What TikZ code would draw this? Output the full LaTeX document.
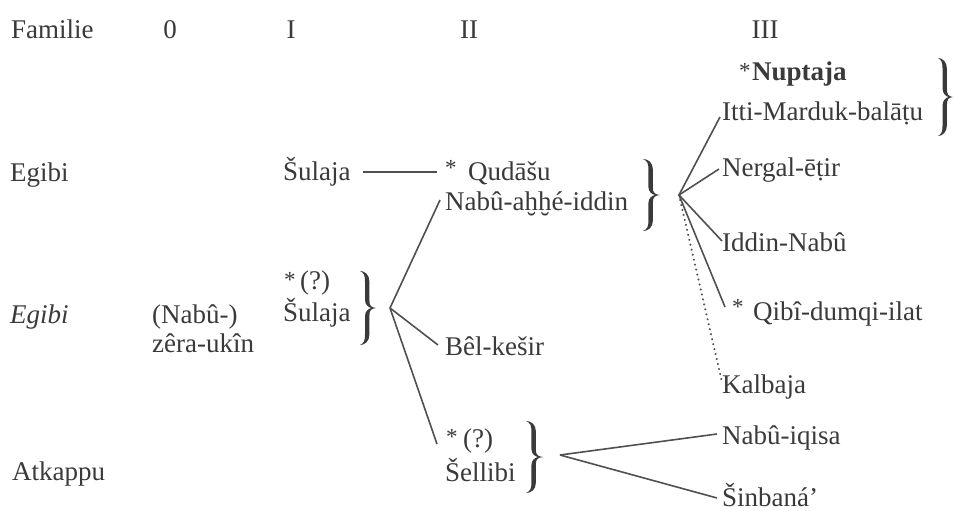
\documentclass[tikz,border=0pt]{standalone}
\usepackage{fontspec}
\setmainfont{Liberation Serif}
\usetikzlibrary{calc}
\definecolor{ink}{HTML}{3A3A3A}
\definecolor{wirec}{HTML}{505050}
\tikzset{
  lbl/.style={anchor=base west, inner sep=0pt, text=ink, font=\fontsize{27}{32}\selectfont},
  hdr/.style={anchor=base, inner sep=0pt, text=ink, font=\fontsize{27}{32}\selectfont},
  starmark/.style={anchor=base west, inner sep=0pt, text=ink, font=\fontsize{23}{27}\selectfont},
  wire/.style={draw=wirec, line width=1.6pt},
  dotwire/.style={draw=wirec, line width=2.2pt, dash pattern=on 0.1pt off 5pt, line cap=round},
  pics/curly/.style 2 args={code={
    \fill[ink] (0,#1) .. controls ({0.3*#2},#1) and ({0.45*#2+2.2},{0.9*#1}) .. ({0.45*#2+2.2},{0.72*#1})
      -- ({0.45*#2+2.2},{0.2*#1}) .. controls ({0.45*#2+2.2},{0.06*#1}) and ({0.7*#2},{0.015*#1}) .. (#2,0)
      .. controls ({0.7*#2},{-0.015*#1}) and ({0.45*#2+2.2},{-0.06*#1}) .. ({0.45*#2+2.2},{-0.2*#1})
      -- ({0.45*#2+2.2},{-0.72*#1}) .. controls ({0.45*#2+2.2},{-0.9*#1}) and ({0.3*#2},{-#1}) .. (0,{-#1})
      .. controls ({0.25*#2},{-0.95*#1}) and ({0.45*#2-2.2},{-0.88*#1}) .. ({0.45*#2-2.2},{-0.72*#1})
      -- ({0.45*#2-2.2},{-0.22*#1}) .. controls ({0.45*#2-2.2},{-0.08*#1}) and ({0.55*#2},{-0.01*#1}) .. ({0.72*#2},0)
      .. controls ({0.55*#2},{0.01*#1}) and ({0.45*#2-2.2},{0.08*#1}) .. ({0.45*#2-2.2},{0.22*#1})
      -- ({0.45*#2-2.2},{0.72*#1}) .. controls ({0.45*#2-2.2},{0.88*#1}) and ({0.25*#2},{0.95*#1}) .. (0,#1) -- cycle;
  }}
}
\begin{document}
\begin{tikzpicture}[x=1pt,y=-1pt]
\fill[white] (0,0) rectangle (954,511);
\useasboundingbox (0,0) rectangle (954,511);
% header
\node[lbl] (fam) at (11,39) {Familie};
\node[hdr] (h0) at (170,39) {0};
\node[hdr] (h1) at (291,39) {I};
\node[hdr] (h2) at (469,39) {II};
\node[hdr] (h3) at (765,39) {III};
% families
\node[lbl] (egibi1) at (10,181) {Egibi};
\node[lbl] (egibi2) at (10,323) {\itshape Egibi};
\node[lbl] (atk) at (12,480) {Atkappu};
% generation 0
\node[lbl] (nab0) at (152,323) {(Nabû-)};
\node[lbl] (zer) at (152,352) {zêra-ukîn};
% generation I
\node[lbl] (sul1) at (283,180) {Šulaja};
\node[starmark] (sulstar) at (284,287) {*};
\node[lbl] (sulq) at (300,289) {(?)};
\node[lbl] (sul2) at (283,321) {Šulaja};
% generation II
\node[starmark] (qstar) at (445,175) {*};
\node[lbl] (qud) at (468,180) {Qudāšu};
\node[lbl] (nah) at (445,210) {Nabû-aḫḫé-iddin};
\node[lbl] (bel) at (445,355) {Bêl-kešir};
\node[starmark] (sellstar) at (446,444) {*};
\node[lbl] (sellq) at (463,447) {(?)};
\node[lbl] (sell) at (445,481) {Šellibi};
% generation III
\node[starmark] (nupstar) at (739,79) {*};
\node[lbl] (nup) at (752,81) {\bfseries Nuptaja};
\node[lbl] (itti) at (722,121) {Itti-Marduk-balāṭu};
\node[lbl] (nerg) at (722,176) {Nergal-ēṭir};
\node[lbl] (iddin) at (722,251) {Iddin-Nabû};
\node[starmark] (qibstar) at (732,314) {*};
\node[lbl] (qib) at (753,320) {Qibî-dumqi-ilat};
\node[lbl] (kal) at (722,393) {Kalbaja};
\node[lbl] (niq) at (722,444) {Nabû-iqisa};
\node[lbl] (sin) at (722,506) {Šinbaná’};
% braces
\pic at (643,195) {curly={36}{17}};
\pic at (938,97) {curly={39}{15}};
\pic at (360,308) {curly={37}{16}};
\pic at (526,457) {curly={36}{17}};
% fan origins
\coordinate (f1) at (679,195);
\coordinate (f3) at (390,308);
\coordinate (f4) at (560,455);
% connectors
\draw[wire] ($(sul1.base east)+(12,-8)$) -- ($(qstar.base west)+(-8,-3)$);
\draw[wire] (f1) -- ($(itti.base west)+(-2,-4)$);
\draw[wire] (f1) -- ($(nerg.base west)+(-3,-7)$);
\draw[wire] (f1) -- ($(iddin.base west)+(0,-10)$);
\draw[wire] (f1) -- ($(qibstar.base west)+(-7,-7)$);
\draw[dotwire] (f1) -- ($(kal.base west)+(0,-11)$);
\draw[wire] (f3) -- ($(nah.base west)+(-5,-10)$);
\draw[wire] (f3) -- ($(bel.base west)+(-7,-10)$);
\draw[wire] (f3) -- ($(sellstar.base west)+(-9,0)$);
\draw[wire] (f4) -- ($(niq.base west)+(-5,-10)$);
\draw[wire] (f4) -- ($(sin.base west)+(-5,-8)$);
\end{tikzpicture}
\end{document}
